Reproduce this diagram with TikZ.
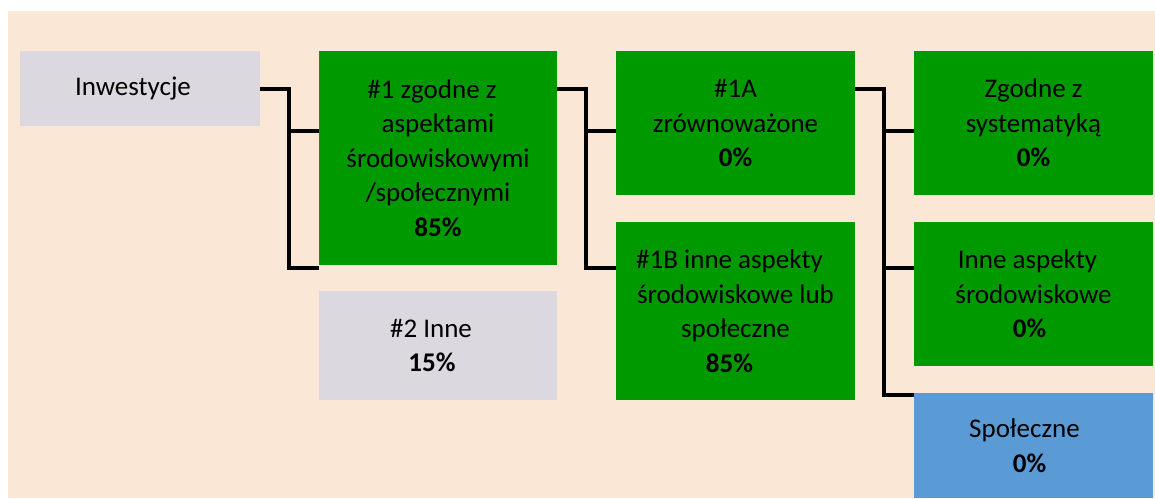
\documentclass[tikz,border=0pt]{standalone}
\usepackage{fontspec}
\setmainfont{Carlito}
\definecolor{bgpeach}{RGB}{251,231,214}
\definecolor{boxgray}{RGB}{219,217,223}
\definecolor{boxgreen}{RGB}{0,153,0}
\definecolor{boxblue}{RGB}{91,155,213}
\tikzset{
  box/.style={rectangle, inner sep=0pt, outer sep=0pt, align=center, text=black,
    font=\fontsize{27}{34.5}\selectfont},
  graybox/.style={box, fill=boxgray},
  greenbox/.style={box, fill=boxgreen},
  bluebox/.style={box, fill=boxblue},
  conn/.style={draw=black, line width=4.8pt, line join=miter}
}
\newcommand{\ls}{\hspace*{12pt}}
\begin{document}
\begin{tikzpicture}[x=1pt,y=-1pt]
\useasboundingbox (0,0) rectangle (1155,498);
\fill[bgpeach] (8,11) rectangle (1155,498);
% boxes
\node[graybox, minimum width=240pt, minimum height=75pt] (inw) at (140,88.5) {Inwestycje\hspace*{14pt}};
\node[greenbox, minimum width=238pt, minimum height=214pt] (n1) at (438,158)
  {\#1 zgodne z\ls\\aspektami\ls\\środowiskowymi\ls\\/społecznymi\ls\\\textbf{85\%}};
\node[graybox, minimum width=238pt, minimum height=109pt] (n2) at (438,345.5)
  {\#2 Inne\hspace*{14pt}\\\textbf{15\%}\ls};
\node[greenbox, minimum width=239pt, minimum height=144pt] (n1a) at (735.5,123)
  {\#1A\\zrównoważone\\\textbf{0\%}};
\node[greenbox, minimum width=239pt, minimum height=178pt] (n1b) at (735.5,311)
  {\#1B inne aspekty\ls\\środowiskowe lub\ls\\społeczne\ls\\\textbf{85\%}\ls};
\node[greenbox, minimum width=239pt, minimum height=144pt] (zg) at (1033.5,123)
  {Zgodne z\\systematyką\\\textbf{0\%}};
\node[greenbox, minimum width=239pt, minimum height=144pt] (ia) at (1033.5,294)
  {Inne aspekty\ls\\środowiskowe\ls\\\textbf{0\%}\hspace*{8pt}};
\node[bluebox, minimum width=239pt, minimum height=105pt] (sp) at (1033.5,445.5)
  {Społeczne\hspace*{18pt}\\\textbf{0\%}\hspace*{8pt}};
% junction coordinates
\coordinate (j1t) at (289,89);
\coordinate (j1m) at (289,131);
\coordinate (j1b) at (289,268);
\coordinate (j2t) at (586,89);
\coordinate (j2m) at (586,131);
\coordinate (j2b) at (586,268);
\coordinate (j3t) at (884,89);
\coordinate (j3a) at (884,131);
\coordinate (j3b) at (884,268);
\coordinate (j3c) at (884,395);
% connectors
\draw[conn] (j1t -| inw.east) -- (j1t) -- (j1b) -- (j1b -| n1.west);
\draw[conn] (j1m) -- (j1m -| n1.west);
\draw[conn] (j2t -| n1.east) -- (j2t) -- (j2b) -- (j2b -| n1b.west);
\draw[conn] (j2m) -- (j2m -| n1a.west);
\draw[conn] (j3t -| n1a.east) -- (j3t) -- (j3c) -- (j3c -| sp.west);
\draw[conn] (j3a) -- (j3a -| zg.west);
\draw[conn] (j3b) -- (j3b -| ia.west);
\end{tikzpicture}
\end{document}
